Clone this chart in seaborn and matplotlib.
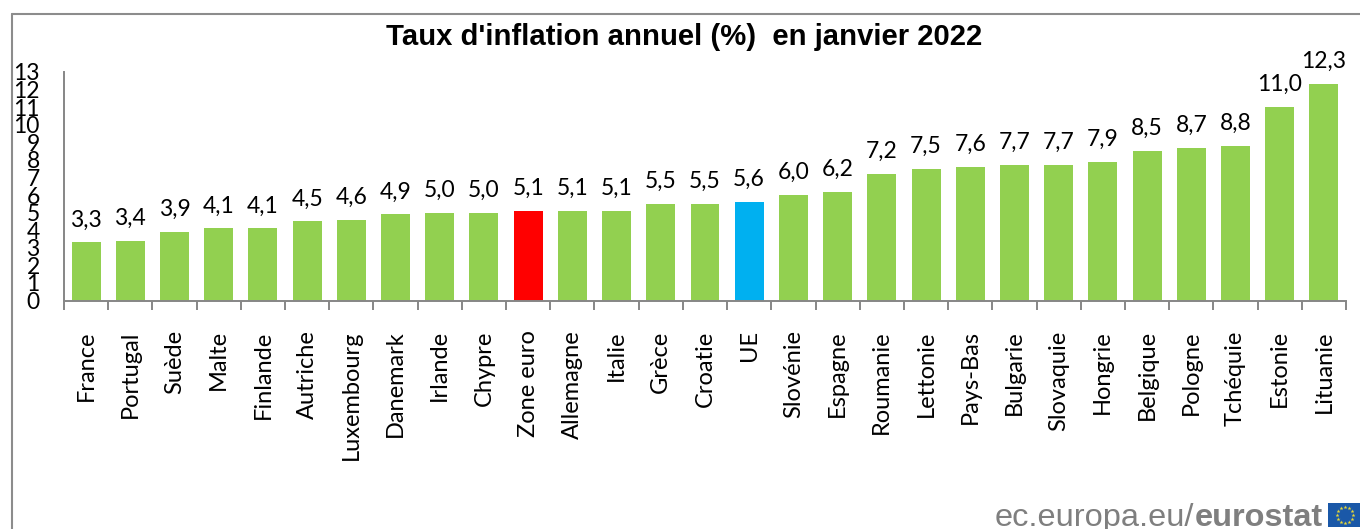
import numpy as np
import pandas as pd
import seaborn as sns
import matplotlib.pyplot as plt
from matplotlib.lines import Line2D
from matplotlib.patches import Rectangle

pays = ['France', 'Portugal', 'Suède', 'Malte', 'Finlande', 'Autriche', 'Luxembourg', 'Danemark',
        'Irlande', 'Chypre', 'Zone euro', 'Allemagne', 'Italie', 'Grèce', 'Croatie', 'UE',
        'Slovénie', 'Espagne', 'Roumanie', 'Lettonie', 'Pays-Bas', 'Bulgarie', 'Slovaquie',
        'Hongrie', 'Belgique', 'Pologne', 'Tchéquie', 'Estonie', 'Lituanie']
taux = [3.3, 3.4, 3.9, 4.1, 4.1, 4.5, 4.6, 4.9, 5.0, 5.0, 5.1, 5.1, 5.1, 5.5, 5.5, 5.6,
        6.0, 6.2, 7.2, 7.5, 7.6, 7.7, 7.7, 7.9, 8.5, 8.7, 8.8, 11.0, 12.3]
couleurs = {'Zone euro': '#FF0000', 'UE': '#00B0F0'}
vert = '#92D050'
W, H = 1360, 529

sns.set_style('white')
plt.rcParams['font.family'] = ['Lato', 'DejaVu Sans']

df = pd.DataFrame({'pays': pays, 'taux': taux})
palette = {p: couleurs.get(p, vert) for p in pays}

fig = plt.figure(figsize=(W / 100, H / 100), dpi=100)
ax = fig.add_axes([64 / W, 1 - 300.5 / H, (1346 - 64) / W, (300.5 - 72) / H])
sns.barplot(data=df, x='pays', y='taux', hue='pays', palette=palette, legend=False,
            dodge=False, width=0.655, saturation=1, linewidth=0, ax=ax)

ax.set_xlim(-0.5, len(pays) - 0.5)
ax.set_ylim(0, 13)
ax.set_xlabel('')
ax.set_ylabel('')
ax.set_yticks(range(14))
ax.tick_params(axis='y', length=6.5, width=1.4, color='#868686', labelsize=16.5, pad=11, labelcolor='black')
ax.tick_params(axis='x', which='major', length=0, labelsize=17, rotation=90, pad=21.5, labelcolor='black')
ax.set_xticks(np.arange(len(pays) + 1) - 0.5, minor=True)
ax.tick_params(axis='x', which='minor', length=6.5, width=1.4, color='#868686', bottom=True)
for s in ['top', 'right']:
    ax.spines[s].set_visible(False)
for s in ['left', 'bottom']:
    ax.spines[s].set_color('#868686')
    ax.spines[s].set_linewidth(1.4)

# valeurs au dessus des barres, virgule decimale
for i, v in enumerate(taux):
    ax.annotate(f'{v:.1f}'.replace('.', ','), (i, v), xytext=(0, 12), textcoords='offset pixels',
                ha='center', va='bottom', fontsize=16.5, color='black', annotation_clip=False)

fig.text(684.5 / W, 1 - 37 / H, "Taux d'inflation annuel (%)  en janvier 2022", ha='center', va='center',
         fontsize=21.1, fontweight='bold', family='Liberation Sans', color='black')

# cadre gris: seulement en haut et a gauche
fig.add_artist(Line2D([11.5 / W, 1], [1 - 13.5 / H, 1 - 13.5 / H], color='#8c8c8c', lw=1.5))
fig.add_artist(Line2D([11.5 / W, 11.5 / W], [0, 1 - 13.5 / H], color='#8c8c8c', lw=1.5))

# pied de page eurostat
t1 = fig.text(995 / W, 1 - 526 / H, 'ec.europa.eu/', ha='left', va='baseline', fontsize=23.4,
              family='Liberation Sans', color='#7f7f7f')
fig.canvas.draw()
bb = t1.get_window_extent()
fig.text(bb.x1 / W, 1 - 526 / H, 'eurostat', ha='left', va='baseline', fontsize=23.4,
         family='Liberation Sans', fontweight='bold', color='#7f7f7f')

# drapeau
fig.add_artist(Rectangle((1328 / W, 2 / H), 32 / W, 24 / H, transform=fig.transFigure, color='#1a58a8', lw=0))
ang = np.arange(12) * np.pi / 6
fig.add_artist(Line2D((1345 + 8 * np.cos(ang)) / W, (14 + 8 * np.sin(ang)) / H, ls='', marker='*',
                      ms=3, color='#e8d838', mew=0, transform=fig.transFigure))

fig.savefig('out.png', dpi=100)
